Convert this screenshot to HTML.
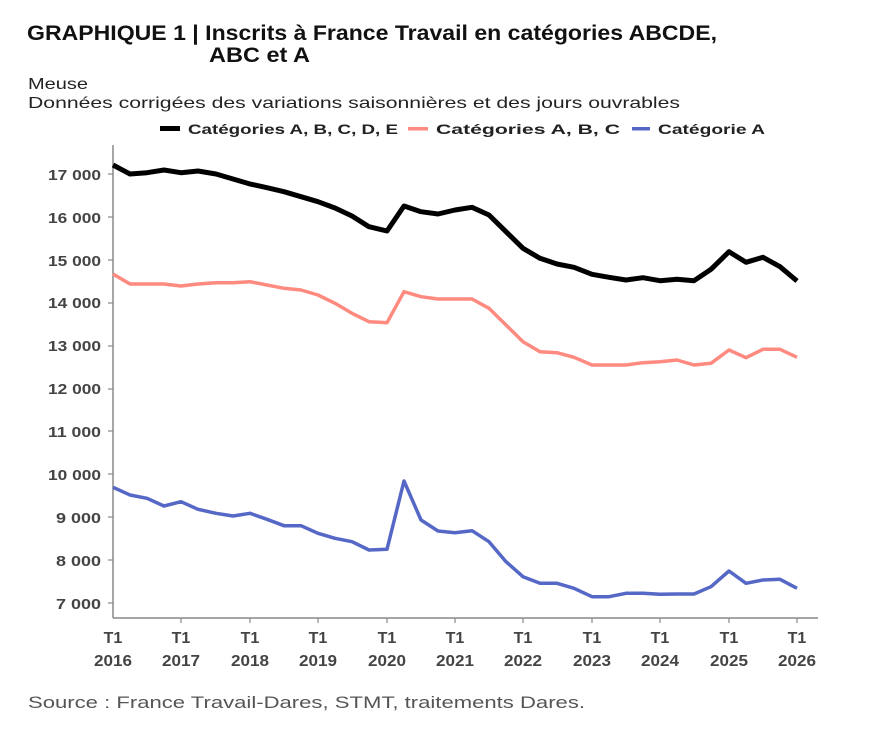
<!DOCTYPE html>
<html><head><meta charset="utf-8"><style>html,body{margin:0;padding:0;background:#fff}svg{display:block}</style></head>
<body>
<svg width="875" height="729" viewBox="0 0 875 729" xmlns="http://www.w3.org/2000/svg" font-family="Liberation Sans, sans-serif">
<text x="27" y="40" font-size="21" font-weight="bold" fill="#111" textLength="690" lengthAdjust="spacingAndGlyphs">GRAPHIQUE 1 | Inscrits à France Travail en catégories ABCDE,</text>
<text x="209" y="62" font-size="21" font-weight="bold" fill="#111" textLength="101" lengthAdjust="spacingAndGlyphs">ABC et A</text>
<text x="28" y="89" font-size="16" fill="#222" textLength="60" lengthAdjust="spacingAndGlyphs">Meuse</text>
<text x="28" y="108" font-size="16" fill="#222" textLength="652" lengthAdjust="spacingAndGlyphs">Données corrigées des variations saisonnières et des jours ouvrables</text>
<g font-size="14" font-weight="bold" fill="#222">
<rect x="160" y="126" width="20" height="5" fill="#000"/>
<text x="188" y="134" textLength="210" lengthAdjust="spacingAndGlyphs">Catégories A, B, C, D, E</text>
<rect x="408" y="127" width="20" height="3.5" fill="#ff8a80"/>
<text x="436" y="134" textLength="184" lengthAdjust="spacingAndGlyphs">Catégories A, B, C</text>
<rect x="632" y="127" width="18" height="3.5" fill="#5668c6"/>
<text x="658" y="134" textLength="107" lengthAdjust="spacingAndGlyphs">Catégorie A</text>
</g>
<g stroke="#888" stroke-width="1.5">
<line x1="113" y1="145" x2="113" y2="618"/>
<line x1="113" y1="618" x2="818" y2="618"/>
</g>
<g font-size="15" font-weight="bold" fill="#444" text-anchor="end">
<text x="101" y="180" textLength="53" lengthAdjust="spacingAndGlyphs">17 000</text><text x="101" y="223" textLength="53" lengthAdjust="spacingAndGlyphs">16 000</text><text x="101" y="266" textLength="53" lengthAdjust="spacingAndGlyphs">15 000</text><text x="101" y="308" textLength="53" lengthAdjust="spacingAndGlyphs">14 000</text><text x="101" y="351" textLength="53" lengthAdjust="spacingAndGlyphs">13 000</text><text x="101" y="394" textLength="53" lengthAdjust="spacingAndGlyphs">12 000</text><text x="101" y="437" textLength="53" lengthAdjust="spacingAndGlyphs">11 000</text><text x="101" y="480" textLength="53" lengthAdjust="spacingAndGlyphs">10 000</text><text x="101" y="523" textLength="45" lengthAdjust="spacingAndGlyphs">9 000</text><text x="101" y="566" textLength="45" lengthAdjust="spacingAndGlyphs">8 000</text><text x="101" y="609" textLength="45" lengthAdjust="spacingAndGlyphs">7 000</text>
</g>
<g stroke="#888" stroke-width="1.2">
<line x1="108" y1="174" x2="113" y2="174"/><line x1="108" y1="217" x2="113" y2="217"/><line x1="108" y1="260" x2="113" y2="260"/><line x1="108" y1="303" x2="113" y2="303"/><line x1="108" y1="346" x2="113" y2="346"/><line x1="108" y1="389" x2="113" y2="389"/><line x1="108" y1="431" x2="113" y2="431"/><line x1="108" y1="474" x2="113" y2="474"/><line x1="108" y1="517" x2="113" y2="517"/><line x1="108" y1="560" x2="113" y2="560"/><line x1="108" y1="603" x2="113" y2="603"/>
<line x1="181" y1="618" x2="181" y2="623"/><line x1="250" y1="618" x2="250" y2="623"/><line x1="318" y1="618" x2="318" y2="623"/><line x1="387" y1="618" x2="387" y2="623"/><line x1="455" y1="618" x2="455" y2="623"/><line x1="523" y1="618" x2="523" y2="623"/><line x1="592" y1="618" x2="592" y2="623"/><line x1="660" y1="618" x2="660" y2="623"/><line x1="729" y1="618" x2="729" y2="623"/><line x1="797" y1="618" x2="797" y2="623"/>
</g>
<g font-size="16" font-weight="bold" fill="#444" text-anchor="middle">
<text x="113" y="643">T1</text><text x="113" y="666" textLength="38" lengthAdjust="spacingAndGlyphs">2016</text>
<text x="181" y="643">T1</text><text x="181" y="666" textLength="38" lengthAdjust="spacingAndGlyphs">2017</text>
<text x="250" y="643">T1</text><text x="250" y="666" textLength="38" lengthAdjust="spacingAndGlyphs">2018</text>
<text x="318" y="643">T1</text><text x="318" y="666" textLength="38" lengthAdjust="spacingAndGlyphs">2019</text>
<text x="387" y="643">T1</text><text x="387" y="666" textLength="38" lengthAdjust="spacingAndGlyphs">2020</text>
<text x="455" y="643">T1</text><text x="455" y="666" textLength="38" lengthAdjust="spacingAndGlyphs">2021</text>
<text x="523" y="643">T1</text><text x="523" y="666" textLength="38" lengthAdjust="spacingAndGlyphs">2022</text>
<text x="592" y="643">T1</text><text x="592" y="666" textLength="38" lengthAdjust="spacingAndGlyphs">2023</text>
<text x="660" y="643">T1</text><text x="660" y="666" textLength="38" lengthAdjust="spacingAndGlyphs">2024</text>
<text x="729" y="643">T1</text><text x="729" y="666" textLength="38" lengthAdjust="spacingAndGlyphs">2025</text>
<text x="797" y="643">T1</text><text x="797" y="666" textLength="38" lengthAdjust="spacingAndGlyphs">2026</text>
</g>
<g fill="none" stroke-linejoin="round">
<polyline stroke="#000" stroke-width="5" points="113,165 130,174 147,172.7 164,170 181,172.7 198,171 216,174 233,179 250,184 267,187.7 284,191.7 301,196.7 318,201.7 335,208 352,216 369,226.7 387,231 404,206 421,211.7 438,214 455,210 472,207.3 489,215 506,231.7 523,248.3 540,258.3 557,264 574,267.3 592,274.3 609,277.3 626,280 643,277.7 660,280.7 677,279.3 694,280.7 711,269.3 729,251.7 746,262.3 763,257.3 780,266.7 797,281"/>
<polyline stroke="#ff8a80" stroke-width="3.5" points="113,274 130,284 147,284 164,284 181,286 198,284 216,282.7 233,282.7 250,281.7 267,285 284,288.3 301,290 318,295 335,303.3 352,313.3 369,321.7 387,322.7 404,291.7 421,296.7 438,299 455,299 472,299 489,308.3 506,325 523,341.7 540,351.7 557,352.7 574,357.3 592,365 609,365 626,365 643,362.7 660,361.7 677,360 694,365 711,363.3 729,350 746,357.7 763,349.3 780,349.3 797,357.3"/>
<polyline stroke="#5668c6" stroke-width="3.5" points="113,487.3 130,495 147,498.3 164,506 181,501.7 198,509.3 216,513.3 233,516 250,513.3 267,519.3 284,525.7 301,525.7 318,533.3 335,538.3 352,541.7 369,550 387,549.3 404,481 421,520 438,531 455,532.7 472,530.7 489,541.7 506,561.7 523,576.7 540,583.3 557,583.3 574,588.3 592,596.7 609,596.7 626,593.3 643,593.3 660,594.3 677,594 694,594 711,586.7 729,571 746,583.3 763,580 780,579.3 797,588.3"/>
</g>
<text x="28" y="708" font-size="17" fill="#555" textLength="557" lengthAdjust="spacingAndGlyphs">Source : France Travail-Dares, STMT, traitements Dares.</text>
</svg>
</body></html>
